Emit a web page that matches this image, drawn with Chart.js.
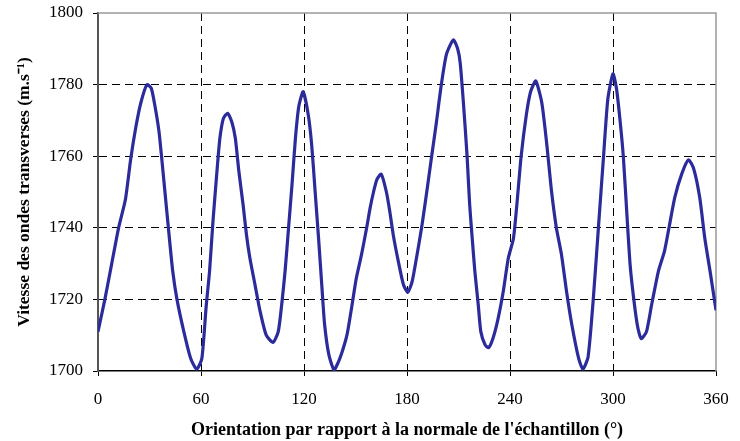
<!DOCTYPE html>
<html>
<head>
<meta charset="utf-8">
<script src="https://cdn.jsdelivr.net/npm/chart.js@4/dist/chart.umd.min.js"></script>
<style>
  html, body { margin: 0; padding: 0; background: #fff; }
  #wrap { width: 740px; height: 441px; }
</style>
</head>
<body>
<div id="wrap"><canvas id="vitesse_chart"></canvas></div>
<script>
// orientation (degres) et vitesse des ondes transverses (m/s)
var angles = [0, 4, 8, 12, 16, 19, 22, 25, 28.5, 31, 33, 35.5, 37, 39, 41, 43.5, 46, 50, 54, 57.5,
  60.5, 63, 65, 67, 69.5, 71, 73, 75.5, 78, 80, 82, 84.5, 86.5, 88.5, 91.5, 94.5, 98, 102, 105, 107,
  109, 111, 113, 115, 117, 119.5, 122.5, 124.5, 126.5, 128.5, 130.5, 132, 134.5, 137.5, 140, 142, 145, 148, 150.5, 153.5,
  156.5, 158.5, 160.5, 162.5, 165, 168, 170, 172, 175, 178, 180.5, 183, 185.5, 188.5, 191.5, 194.5, 197, 200, 203, 207,
  209.5, 211, 213, 215, 216.5, 218, 219.5, 221.5, 223, 225.5, 227.5, 230, 233, 236, 239, 242, 244, 246.5, 249.5, 252,
  255, 258.5, 261.5, 264, 267, 270, 273, 276, 280, 282.5, 285.5, 288.5, 291.5, 294.5, 297, 300, 302, 304, 306, 308,
  310, 312.5, 314.5, 316.5, 319.5, 322.5, 326.5, 330, 333, 336, 340, 344, 347, 350.5, 353.5, 356.5, 360];
var vitesse = [1711, 1720, 1730, 1740, 1748, 1759, 1768, 1775, 1780, 1779, 1774.5, 1767, 1760, 1750, 1740, 1728, 1720, 1711, 1703.5, 1700.5,
  1703.5, 1718, 1728, 1742, 1757, 1765, 1770.5, 1772, 1769.5, 1765, 1756, 1746.5, 1738, 1731.5, 1724, 1716.5, 1710, 1708, 1711, 1718.5,
  1728, 1740, 1752, 1765, 1774, 1778, 1771.5, 1763, 1750, 1737, 1723, 1713, 1704.5, 1700.3, 1702.5, 1705, 1710, 1718.5, 1726, 1732.5,
  1740, 1745.5, 1750, 1753.5, 1755, 1750, 1744.5, 1738, 1730.5, 1724, 1722, 1725, 1731.5, 1740, 1750, 1760.5, 1769, 1780, 1788.5, 1792.5,
  1790, 1786, 1774, 1760, 1746.5, 1737, 1728, 1718.5, 1711, 1707.3, 1706.5, 1709, 1714.5, 1722, 1731.5, 1737, 1746.5, 1760, 1771.5, 1778,
  1781, 1775, 1763, 1751, 1740, 1732.5, 1722, 1713, 1703.5, 1700.5, 1704, 1720, 1740, 1760, 1776, 1783, 1779, 1770.5, 1760, 1744.5,
  1729.5, 1718.5, 1712, 1709, 1711, 1718.5, 1728, 1733.5, 1741, 1748.5, 1755, 1759, 1756.5, 1748.5, 1737, 1728, 1717];

var x_min = 0, x_max = 360, x_pas = 60;
var y_min = 1700, y_max = 1800, y_pas = 20;

var titre_x = "Orientation par rapport à la normale de l'échantillon (°)";
var titre_y = "Vitesse des ondes transverses (m.s⁻¹)";

var points = angles.map(function (a, i) {
  return { x: a, y: vitesse[i] };
});

// cadre gris en haut et a droite
const cadre = {
  id: "cadre",
  beforeDatasetsDraw(chart) {
    const a = chart.chartArea;
    const ctx = chart.ctx;
    ctx.save();
    ctx.strokeStyle = "#9a9a9a";
    ctx.lineWidth = 1.5;
    ctx.beginPath();
    ctx.moveTo(a.left, a.top);
    ctx.lineTo(a.right, a.top);
    ctx.lineTo(a.right, a.bottom);
    ctx.stroke();
    ctx.restore();
  },
};

function grille(ctx) {
  if (ctx.index === 0 || ctx.tick.value === x_max || ctx.tick.value === y_max) return "rgba(0,0,0,0)";
  return "#000";
}

function sans_separateur(value) {
  return String(value);
}

const ctx = document.getElementById("vitesse_chart").getContext("2d");
const myChart = new Chart(ctx, {
  type: "line",
  data: {
    datasets: [
      {
        data: points,
        borderColor: "#2b2b9c",
        borderWidth: 3.2,
        pointRadius: 0,
        tension: 0.2,
        fill: false,
      },
    ],
  },
  options: {
    responsive: true,
    maintainAspectRatio: false,
    animation: false,
    layout: { padding: { left: 14, top: 13, right: 24, bottom: 0 } },
    plugins: {
      legend: { display: false },
      tooltip: { enabled: false },
    },
    scales: {
      x: {
        type: "linear",
        min: x_min,
        max: x_max,
        afterFit: function (s) {
          s.height = 70;
          s.paddingLeft = 0;
          s.paddingRight = 0;
        },
        ticks: {
          stepSize: x_pas,
          color: "#000",
          padding: 13,
          font: { family: "Liberation Serif", size: 17 },
          maxRotation: 0,
          callback: sans_separateur,
        },
        grid: {
          color: grille,
          tickColor: "#000",
          tickLength: 5,
          tickBorderDash: [],
        },
        border: { color: "#000", width: 1.5, dash: [8, 5] },
        title: {
          display: true,
          text: titre_x,
          color: "#000",
          padding: { top: 0, bottom: 0 },
          font: { family: "Liberation Serif", size: 18, weight: "bold" },
        },
      },
      y: {
        min: y_min,
        max: y_max,
        afterFit: function (s) {
          s.width = 84;
          s.paddingTop = 0;
          s.paddingBottom = 0;
        },
        ticks: {
          stepSize: y_pas,
          color: "#000",
          padding: 10,
          font: { family: "Liberation Serif", size: 17 },
          callback: sans_separateur,
        },
        grid: {
          color: grille,
          tickColor: "#000",
          tickLength: 5,
          tickBorderDash: [],
        },
        border: { color: "#555", width: 2, dash: [8, 5] },
        title: {
          display: true,
          text: titre_y,
          color: "#000",
          padding: { top: 0, bottom: 0 },
          font: { family: "Liberation Serif", size: 17.5, weight: "bold" },
        },
      },
    },
  },
  plugins: [cadre],
});
</script>
</body>
</html>
